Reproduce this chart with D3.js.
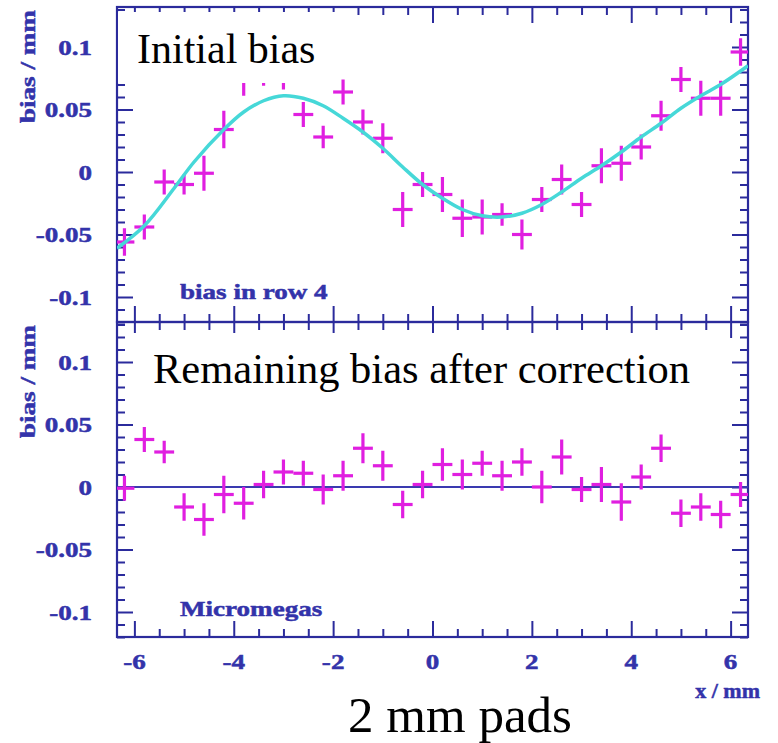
<!DOCTYPE html>
<html>
<head>
<meta charset="utf-8">
<script src="https://cdn.jsdelivr.net/npm/d3@7"></script>
<style>
  body { margin: 0; background: #ffffff; }
  svg { display: block; }
</style>
</head>
<body>
<svg id="chart" width="778" height="743"></svg>
<script>
// Pad position bins (mm), one bin every 0.4 mm
const padX = [-6.2, -5.8, -5.4, -5.0, -4.6, -4.2, -3.8, -3.4, -3.0, -2.6, -2.2, -1.8, -1.4, -1.0, -0.6, -0.2,
               0.2,  0.6,  1.0,  1.4,  1.8,  2.2,  2.6,  3.0,  3.4,  3.8,  4.2,  4.6,  5.0,  5.4,  5.8,  6.2];
const binHalfWidth = 0.2;

// Measured bias in row 4 before correction (mm) and its errors
const initialBias = [-0.056, -0.044, -0.008, -0.010, -0.001, 0.034, 0.074, 0.080, 0.077, 0.046, 0.028, 0.064,
                      0.040,  0.027, -0.030, -0.010, -0.018, -0.037, -0.036, -0.034, -0.050, -0.022, -0.006, -0.026,
                      0.005,  0.007,  0.020,  0.045,  0.074,  0.059,  0.059,  0.096];
const initialErr = [0.011, 0.010, 0.010, 0.008, 0.014, 0.015, 0.013, 0.011, 0.011, 0.010, 0.009, 0.010,
                    0.010, 0.012, 0.014, 0.010, 0.014, 0.015, 0.014, 0.009, 0.012, 0.010, 0.012, 0.010,
                    0.014, 0.014, 0.010, 0.012, 0.010, 0.014, 0.014, 0.011];

// Fitted bias curve, sampled along x (mm)
const fitX = [-6.35, -5.8, -5.2, -4.8, -4.2, -3.8, -3.4, -3.0, -2.6, -2.2, -1.8, -1.4, -1.0, -0.6, -0.2,
               0.2,  0.6,  1.0,  1.4,  1.8,  2.2,  2.6,  3.0,  3.4,  3.8,  4.2,  4.6,  5.0,  5.4,  5.8, 6.35];
const fitBias = [-0.061, -0.043, -0.013, 0.008, 0.034, 0.048, 0.057, 0.061, 0.059, 0.053, 0.043, 0.032, 0.019,
                  0.004, -0.010, -0.021, -0.030, -0.035, -0.036, -0.033, -0.026, -0.016, -0.005, 0.005, 0.016,
                  0.028,  0.039,  0.051,  0.061,  0.070,  0.085];

// Remaining bias after correction (mm) and its errors
const residualBias = [-0.001, 0.038, 0.028, -0.016, -0.026, -0.006, -0.013, 0.002, 0.012, 0.011, -0.002, 0.009,
                       0.031, 0.017, -0.014, 0.002, 0.018, 0.010, 0.019, 0.009, 0.020, 0.000, 0.024, -0.002,
                       0.002, -0.012, 0.008, 0.031, -0.021, -0.016, -0.022, -0.006];
const residualErr = [0.010, 0.010, 0.009, 0.011, 0.013, 0.015, 0.013, 0.011, 0.010, 0.010, 0.012, 0.012,
                     0.012, 0.012, 0.011, 0.011, 0.013, 0.012, 0.010, 0.012, 0.011, 0.013, 0.014, 0.010,
                     0.014, 0.015, 0.010, 0.011, 0.011, 0.011, 0.011, 0.010];

// Axis ticks and labels
const xDomain = [-6.35, 6.35];
const yDomain = [-0.12, 0.132];
const xMajorTicks = [-6, -4, -2, 0, 2, 4, 6];
const xTickLabels = ["-6", "-4", "-2", "0", "2", "4", "6"];
const yMajorTicks = [-0.1, -0.05, 0, 0.05, 0.1];
const yTickLabels = ["-0.1", "-0.05", "0", "0.05", "0.1"];

const frameColor = "#2b2b9c";
const labelColor = "#3333aa";
const markColor = "#e01fe0";
const fitColor = "#46d8d8";
const serif = "'Liberation Serif', 'Times New Roman', serif";
const stretch = 1.23;

const frameLeft = 117, frameRight = 748, frameTop = 7, frameMid = 322, frameBottom = 637;

const svg = d3.select("#chart");
const x = d3.scaleLinear().domain(xDomain).range([frameLeft, frameRight]);
const yUpper = d3.scaleLinear().domain(yDomain).range([frameMid, frameTop]);
const yLower = d3.scaleLinear().domain(yDomain).range([frameBottom, frameMid]);

const xMinorTicks = d3.range(-6, 6.001, 0.5).filter(v => Math.abs(v % 2) > 1e-9);
const yMinorTicks = d3.range(-12, 14, 1).filter(v => v % 5 !== 0).map(v => v / 100);

function cleanAxis(sel) {
  sel.select(".domain").remove();
  sel.selectAll("text").remove();
  sel.selectAll("line").attr("stroke", frameColor).attr("stroke-width", 2);
}

// Bold blue axis lettering, slightly widened
function axisText(sel) {
  return sel.attr("font-family", serif).attr("font-weight", "bold").attr("font-size", 22)
    .attr("fill", labelColor).attr("stroke", labelColor).attr("stroke-width", 0.5);
}

function drawPanel(y, y0, y1, name) {
  const g = svg.append("g").attr("class", "panel-" + name);

  [[xMajorTicks, 16], [xMinorTicks, 8]].forEach(([vals, len]) => {
    g.append("g").attr("transform", `translate(0,${y1})`)
      .call(d3.axisBottom(x).tickValues(vals).tickSize(-len).tickFormat(""))
      .call(cleanAxis);
    g.append("g").attr("transform", `translate(0,${y0})`)
      .call(d3.axisTop(x).tickValues(vals).tickSize(-len).tickFormat(""))
      .call(cleanAxis);
  });
  [[yMajorTicks, 16], [yMinorTicks, 8]].forEach(([vals, len]) => {
    g.append("g").attr("transform", `translate(${frameLeft},0)`)
      .call(d3.axisLeft(y).tickValues(vals).tickSize(-len).tickFormat(""))
      .call(cleanAxis);
    g.append("g").attr("transform", `translate(${frameRight},0)`)
      .call(d3.axisRight(y).tickValues(vals).tickSize(-len).tickFormat(""))
      .call(cleanAxis);
  });

  g.append("rect")
    .attr("x", frameLeft).attr("y", y0)
    .attr("width", frameRight - frameLeft).attr("height", y1 - y0)
    .attr("fill", "none").attr("stroke", frameColor).attr("stroke-width", 2.2);

  // y tick labels
  yMajorTicks.forEach((v, i) => {
    g.append("text")
      .attr("transform", `translate(92,${y(v)}) scale(${stretch},1)`)
      .attr("text-anchor", "end").attr("dy", "0.35em")
      .call(axisText)
      .text(yTickLabels[i]);
  });

  // y axis title
  g.append("text")
    .attr("transform", `translate(35,${y0 + 116}) rotate(-90) scale(${stretch},1)`)
    .call(axisText)
    .text("bias / mm");

  const clipId = "clip-" + name;
  svg.append("clipPath").attr("id", clipId)
    .append("rect").attr("x", frameLeft).attr("y", y0).attr("width", frameRight - frameLeft).attr("height", y1 - y0);
  return svg.append("g").attr("clip-path", `url(#${clipId})`);
}

function drawPoints(layer, y, values, errs) {
  const pts = layer.append("g").attr("stroke", markColor).attr("stroke-width", 3.2);
  pts.selectAll("line.v").data(values).join("line").attr("class", "v")
    .attr("x1", (d, i) => x(padX[i])).attr("x2", (d, i) => x(padX[i]))
    .attr("y1", (d, i) => y(d - errs[i])).attr("y2", (d, i) => y(d + errs[i]));
  pts.selectAll("line.h").data(values).join("line").attr("class", "h")
    .attr("x1", (d, i) => x(padX[i] - binHalfWidth)).attr("x2", (d, i) => x(padX[i] + binHalfWidth))
    .attr("y1", d => y(d)).attr("y2", d => y(d));
}

// Upper panel: initial bias with fit
const upper = drawPanel(yUpper, frameTop, frameMid, "upper");
drawPoints(upper, yUpper, initialBias, initialErr);
upper.append("path")
  .datum(fitX.map((v, i) => [v, fitBias[i]]))
  .attr("fill", "none").attr("stroke", fitColor).attr("stroke-width", 3.5)
  .attr("d", d3.line().x(d => x(d[0])).y(d => yUpper(d[1])).curve(d3.curveCatmullRom));

// Lower panel: residual bias with zero line
const lower = drawPanel(yLower, frameMid, frameBottom, "lower");
lower.append("line")
  .attr("x1", frameLeft).attr("x2", frameRight).attr("y1", yLower(0)).attr("y2", yLower(0))
  .attr("stroke", "#3a3ab0").attr("stroke-width", 2);
drawPoints(lower, yLower, residualBias, residualErr);

// In-plot labels
svg.append("text")
  .attr("transform", `translate(180,299) scale(${stretch},1)`)
  .call(axisText).text("bias in row 4");
svg.append("text")
  .attr("transform", `translate(180,616) scale(${stretch},1)`)
  .call(axisText).text("Micromegas");

// x tick labels and title
xMajorTicks.forEach((v, i) => {
  svg.append("text")
    .attr("transform", `translate(${x(v)},669) scale(${stretch},1)`)
    .attr("text-anchor", "middle")
    .call(axisText).text(xTickLabels[i]);
});
svg.append("text")
  .attr("transform", `translate(760,698)`)
  .attr("text-anchor", "end")
  .call(axisText).text("x / mm");

// Panel titles on white boxes
svg.append("rect").attr("x", 118).attr("y", 12).attr("width", 222).attr("height", 71).attr("fill", "#ffffff");
svg.append("text").attr("x", 137).attr("y", 63)
  .attr("font-family", serif).attr("font-size", 42).attr("fill", "#000000")
  .text("Initial bias");

svg.append("rect").attr("x", 133).attr("y", 333).attr("width", 580).attr("height", 70).attr("fill", "#ffffff");
svg.append("text").attr("x", 153).attr("y", 383)
  .attr("font-family", serif).attr("font-size", 42.5).attr("fill", "#000000")
  .text("Remaining bias after correction");

// Caption
svg.append("text").attr("x", 460).attr("y", 732)
  .attr("text-anchor", "middle")
  .attr("font-family", serif).attr("font-size", 51).attr("fill", "#000000")
  .text("2 mm pads");
</script>
</body>
</html>
